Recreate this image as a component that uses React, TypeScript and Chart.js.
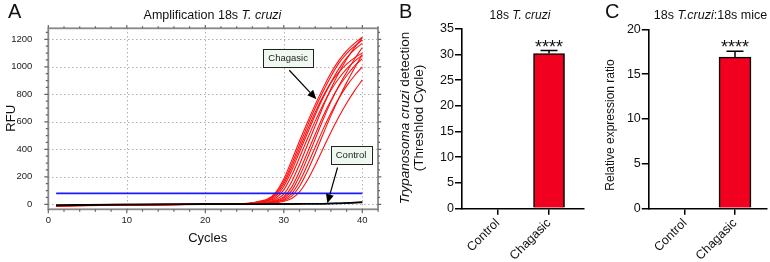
import React, { useEffect, useRef } from 'react';
import { Chart, registerables } from 'chart.js';

Chart.register(...registerables);

const FONT = '"Liberation Sans", Arial, Helvetica, sans-serif';

// ---------- Panel A: amplification curves ----------
const cycles = [1, 5, 10, 15, 20, 22, 24, 25, 26, 27, 28, 29, 30, 31, 32, 33, 34, 35, 36, 37, 38, 39, 40];
const chagasic01 = [-10, -7, -4, -2, 0, 1, 3, 6, 12, 24, 40, 90, 185, 320, 460, 595, 725, 845, 955, 1045, 1115, 1170, 1215];
const chagasic02 = [-12, -8, -5, -2, 0, 1, 3, 5, 10, 20, 36, 80, 166, 293, 432, 569, 700, 820, 930, 1025, 1095, 1150, 1195];
const chagasic03 = [-9, -6, -4, -1, 0, 1, 2, 5, 9, 18, 33, 70, 150, 270, 405, 540, 670, 785, 885, 960, 1020, 1065, 1100];
const chagasic04 = [-11, -8, -5, -2, -1, 0, 2, 4, 8, 16, 30, 60, 130, 245, 380, 515, 650, 775, 885, 985, 1065, 1125, 1170];
const chagasic05 = [-10, -7, -3, -1, 0, 1, 2, 4, 7, 13, 25, 48, 105, 210, 340, 475, 605, 725, 830, 915, 985, 1040, 1085];
const chagasic06 = [-13, -9, -5, -2, -1, 0, 1, 3, 6, 10, 19, 36, 75, 165, 290, 430, 570, 710, 840, 955, 1055, 1140, 1210];
const chagasic07 = [-9, -6, -3, -1, 0, 0, 1, 2, 5, 8, 15, 28, 55, 125, 240, 375, 510, 640, 755, 855, 935, 1005, 1060];
const chagasic08 = [-11, -7, -4, -2, -1, 0, 1, 2, 4, 7, 13, 24, 45, 100, 205, 335, 475, 615, 745, 860, 960, 1055, 1140];
const chagasic09 = [-10, -6, -4, -2, 0, 0, 1, 2, 3, 6, 10, 19, 36, 78, 165, 285, 415, 545, 665, 770, 860, 935, 1000];
const chagasic10 = [-12, -8, -5, -3, -1, 0, 0, 1, 3, 5, 9, 16, 29, 60, 130, 240, 370, 510, 645, 770, 885, 990, 1090];
const chagasic11 = [-9, -6, -4, -2, -1, 0, 0, 1, 2, 4, 7, 12, 22, 42, 90, 175, 285, 405, 525, 635, 735, 825, 905];
const control01 = [-5, -3, -1, 1, 2, 2, 2, 2, 2, 1, 2, 2, 3, 3, 3, 4, 4, 5, 6, 7, 9, 11, 14];
const control02 = [-8, -5, -2, 0, 1, 1, 1, 2, 1, 2, 2, 2, 3, 3, 4, 4, 5, 5, 6, 8, 10, 13, 17];
const thresholdCycles = [1, 40];
const thresholdRFU = [80, 80];
const chagasicSeries = [chagasic01, chagasic02, chagasic03, chagasic04, chagasic05, chagasic06, chagasic07, chagasic08, chagasic09, chagasic10, chagasic11];
const controlSeries = [control01, control02];

// callouts (data units)
const calloutsA = [
  { text: 'Chagasic', x: 30.55, y: 1066, tailX: 30.7, tailY: 975, tipX: 34.15, tipY: 765 },
  { text: 'Control', x: 38.57, y: 361, tailX: 36.85, tailY: 268, tipX: 35.55, tipY: 8 },
];

// ---------- Panels B / C ----------
const groups = ['Control', 'Chagasic'];
const ctValues = [0, 30.2];
const ctErrors = [0, 0.6];
const ratioValues = [0, 16.9];
const ratioErrors = [0, 0.65];
const significance = ['', '****'];

type Part = [string, boolean];

function drawRich(ctx: CanvasRenderingContext2D, parts: Part[], cx: number, cy: number, size: number, rotate = false) {
  ctx.save();
  ctx.translate(cx, cy);
  if (rotate) ctx.rotate(-Math.PI / 2);
  ctx.textBaseline = 'middle';
  ctx.textAlign = 'left';
  ctx.fillStyle = '#111';
  let total = 0;
  for (const [t, it] of parts) {
    ctx.font = `${it ? 'italic ' : ''}${size}px ${FONT}`;
    total += ctx.measureText(t).width;
  }
  let x = -total / 2;
  for (const [t, it] of parts) {
    ctx.font = `${it ? 'italic ' : ''}${size}px ${FONT}`;
    ctx.fillText(t, x, 0);
    x += ctx.measureText(t).width;
  }
  ctx.restore();
}

function drawLetter(ctx: CanvasRenderingContext2D, letter: string, x: number, baseline: number) {
  ctx.save();
  ctx.font = `20px ${FONT}`;
  ctx.fillStyle = '#111';
  ctx.textAlign = 'left';
  ctx.textBaseline = 'alphabetic';
  ctx.fillText(letter, x, baseline);
  ctx.restore();
}

function makeA(canvas: HTMLCanvasElement) {
  const red = '#ff1010';
  const datasets: any[] = [];
  datasets.push({
    data: thresholdCycles.map((c, i) => ({ x: c, y: thresholdRFU[i] })),
    borderColor: '#1a1aff', borderWidth: 1.6, pointRadius: 0,
  });
  controlSeries.forEach((s) => datasets.push({
    data: cycles.map((c, i) => ({ x: c, y: s[i] })),
    borderColor: '#000', borderWidth: 1.5, pointRadius: 0, cubicInterpolationMode: 'monotone',
  }));
  chagasicSeries.forEach((s) => datasets.push({
    data: cycles.map((c, i) => ({ x: c, y: s[i] })),
    borderColor: red, borderWidth: 1.1, pointRadius: 0, cubicInterpolationMode: 'monotone',
  }));

  const framePlugin = {
    id: 'frameA',
    beforeDatasetsDraw(chart: any) {
      const { ctx, chartArea: a, scales: { x, y } } = chart;
      ctx.save();
      ctx.strokeStyle = '#8c8c8c';
      ctx.lineWidth = 1;
      ctx.setLineDash([1, 3]);
      x.ticks.forEach((t: any) => {
        if (t.value === 0) return;
        const px = Math.round(x.getPixelForValue(t.value)) + 0.5;
        ctx.beginPath(); ctx.moveTo(px, a.top); ctx.lineTo(px, a.bottom); ctx.stroke();
      });
      y.ticks.forEach((t: any) => {
        const py = Math.round(y.getPixelForValue(t.value)) + 0.5;
        ctx.beginPath(); ctx.moveTo(a.left, py); ctx.lineTo(a.right, py); ctx.stroke();
      });
      ctx.restore();
    },
    afterDatasetsDraw(chart: any) {
      const { ctx, chartArea: a, scales: { x, y } } = chart;
      ctx.save();
      ctx.strokeStyle = '#888';
      ctx.lineWidth = 1.8;
      ctx.strokeRect(a.left, a.top, a.right - a.left, a.bottom - a.top);
      ctx.lineWidth = 1.2;
      ctx.strokeStyle = '#666';
      for (let v = 0; v <= x.max; v += 2) {
        const px = x.getPixelForValue(v);
        const len = v % 10 === 0 ? 4 : 2.5;
        ctx.beginPath();
        ctx.moveTo(px, a.bottom); ctx.lineTo(px, a.bottom + len);
        ctx.moveTo(px, a.top); ctx.lineTo(px, a.top - len * 0.8);
        ctx.stroke();
      }
      for (let v = 0; v <= y.max; v += 50) {
        const py = y.getPixelForValue(v);
        const len = v % 200 === 0 ? 4 : 2.5;
        ctx.beginPath();
        ctx.moveTo(a.left - len, py); ctx.lineTo(a.left, py);
        ctx.moveTo(a.right, py); ctx.lineTo(a.right + len * 0.8, py);
        ctx.stroke();
      }
      ctx.restore();
    },
    afterDraw(chart: any) {
      const { ctx, scales: { x, y } } = chart;
      calloutsA.forEach((c) => {
        const tx = x.getPixelForValue(c.tailX), ty = y.getPixelForValue(c.tailY);
        const hx = x.getPixelForValue(c.tipX), hy = y.getPixelForValue(c.tipY);
        ctx.save();
        ctx.strokeStyle = '#000'; ctx.fillStyle = '#000'; ctx.lineWidth = 1.2;
        const ang = Math.atan2(hy - ty, hx - tx);
        const hl = 9, hw = 4;
        const bx = hx - hl * Math.cos(ang), by = hy - hl * Math.sin(ang);
        ctx.beginPath(); ctx.moveTo(tx, ty); ctx.lineTo(bx, by); ctx.stroke();
        ctx.beginPath();
        ctx.moveTo(hx, hy);
        ctx.lineTo(bx + hw * Math.sin(ang), by - hw * Math.cos(ang));
        ctx.lineTo(bx - hw * Math.sin(ang), by + hw * Math.cos(ang));
        ctx.closePath(); ctx.fill();
        const cx = x.getPixelForValue(c.x), cy = y.getPixelForValue(c.y);
        ctx.font = `9.5px ${FONT}`;
        const w = ctx.measureText(c.text).width + 10, h = 18;
        ctx.fillStyle = '#eef8ef';
        ctx.fillRect(cx - w / 2, cy - h / 2, w, h);
        ctx.strokeStyle = '#222'; ctx.lineWidth = 1;
        ctx.strokeRect(Math.round(cx - w / 2) + 0.5, Math.round(cy - h / 2) + 0.5, Math.round(w), h);
        ctx.fillStyle = '#222'; ctx.textAlign = 'center'; ctx.textBaseline = 'middle';
        ctx.fillText(c.text, cx, cy + 0.5);
        ctx.restore();
      });
      drawLetter(ctx, 'A', 8, 18);
      drawRich(ctx, [['Amplification 18s ', false], ['T. cruzi', true]], 212.5, 15.5, 12.5);
      drawRich(ctx, [['RFU', false]], 11.7, 118.3, 13, true);
      drawRich(ctx, [['Cycles', false]], 207.7, 238, 13);
    },
  };

  return new Chart(canvas, {
    type: 'line',
    data: { datasets },
    plugins: [framePlugin],
    options: {
      responsive: false,
      animation: false,
      devicePixelRatio: 1,
      layout: { padding: { top: 28.3, right: 12, left: 0, bottom: 0 } },
      plugins: { legend: { display: false }, tooltip: { enabled: false } },
      scales: {
        x: {
          type: 'linear', min: 0, max: 42,
          ticks: {
            stepSize: 10, includeBounds: false, maxRotation: 0, padding: -3, color: '#222',
            font: { size: 9.5, family: FONT }, callback: (v: any) => String(v),
          },
          grid: { display: false }, border: { display: false },
          afterFit: (s: any) => { s.height = 262 - 209.3; },
        },
        y: {
          type: 'linear', min: -36, max: 1280,
          ticks: {
            stepSize: 200, includeBounds: false, padding: 8, color: '#222',
            font: { size: 9.5, family: FONT }, callback: (v: any) => String(v),
          },
          grid: { display: false }, border: { display: false },
          afterFit: (s: any) => { s.width = 48.3; },
        },
      },
    } as any,
  });
}

interface BarCfg {
  values: number[]; errors: number[];
  yMax: number; yStep: number;
  xMin: number; xMax: number;
  padTop: number; padRight: number; yWidth: number; xHeight: number;
  barThickness: number;
  letter: string; letterX: number;
  title: Part[]; titleX: number; titleSize: number;
  yTitles: { parts: Part[]; cx: number; cy: number }[]; yTitleSize: number;
}

function makeBar(canvas: HTMLCanvasElement, cfg: BarCfg) {
  const extras = {
    id: 'extras',
    afterDatasetsDraw(chart: any) {
      const { ctx, scales: { x, y } } = chart;
      ctx.save();
      cfg.values.forEach((v, i) => {
        const err = cfg.errors[i];
        const px = x.getPixelForValue(i);
        const yTop = y.getPixelForValue(v + err);
        if (err > 0) {
          ctx.strokeStyle = '#000'; ctx.lineWidth = 1.5;
          ctx.beginPath();
          ctx.moveTo(px, y.getPixelForValue(v)); ctx.lineTo(px, yTop);
          ctx.moveTo(px - 8.5, yTop); ctx.lineTo(px + 8.5, yTop);
          ctx.stroke();
        }
        if (significance[i]) {
          ctx.fillStyle = '#111';
          ctx.font = `18px ${FONT}`;
          ctx.textAlign = 'center'; ctx.textBaseline = 'alphabetic';
          ctx.fillText(significance[i], px, yTop + 2);
        }
      });
      ctx.restore();
    },
    afterDraw(chart: any) {
      const { ctx } = chart;
      drawLetter(ctx, cfg.letter, cfg.letterX, 18);
      drawRich(ctx, cfg.title, cfg.titleX, 16, cfg.titleSize);
      cfg.yTitles.forEach((t) => drawRich(ctx, t.parts, t.cx, t.cy, cfg.yTitleSize, true));
    },
  };

  return new Chart(canvas, {
    type: 'bar',
    data: {
      datasets: [{
        data: groups.map((g, i) => ({ x: i, y: cfg.values[i] })),
        backgroundColor: '#f2001f',
        borderColor: '#000',
        borderWidth: 1.6,
        borderSkipped: 'start',
        barThickness: cfg.barThickness,
      }],
    },
    plugins: [extras],
    options: {
      responsive: false,
      animation: false,
      devicePixelRatio: 1,
      layout: { padding: { top: cfg.padTop, right: cfg.padRight, left: 0, bottom: 0 } },
      plugins: { legend: { display: false }, tooltip: { enabled: false } },
      scales: {
        x: {
          type: 'linear', min: cfg.xMin, max: cfg.xMax, offset: false,
          afterBuildTicks: (s: any) => { s.ticks = groups.map((_, i) => ({ value: i })); },
          ticks: {
            autoSkip: false, maxRotation: 45, minRotation: 45, padding: 1, color: '#111',
            font: { size: 12.5, family: FONT },
            callback: (v: any) => groups[v as number] ?? '',
          },
          grid: { drawOnChartArea: false, drawTicks: true, tickLength: 6.5, color: '#000', lineWidth: 1.5, offset: false },
          border: { color: '#000', width: 1.6 },
          afterFit: (s: any) => { s.height = cfg.xHeight; },
        },
        y: {
          type: 'linear', min: 0, max: cfg.yMax,
          ticks: { stepSize: cfg.yStep, padding: 1, color: '#111', font: { size: 12.5, family: FONT } },
          grid: { drawOnChartArea: false, drawTicks: true, tickLength: 6.5, color: '#000', lineWidth: 1.5 },
          border: { color: '#000', width: 1.6 },
          afterFit: (s: any) => { s.width = cfg.yWidth; },
        },
      },
    } as any,
  });
}

export default function App() {
  const refA = useRef<HTMLCanvasElement>(null);
  const refB = useRef<HTMLCanvasElement>(null);
  const refC = useRef<HTMLCanvasElement>(null);

  useEffect(() => {
    const charts: Chart[] = [];
    charts.push(makeA(refA.current!));
    charts.push(makeBar(refB.current!, {
      values: ctValues, errors: ctErrors, yMax: 35, yStep: 5,
      xMin: -0.706, xMax: 1.668,
      padTop: 29, padRight: 6.7, yWidth: 71.5, xHeight: 262 - 208.3,
      barThickness: 31,
      letter: 'B', letterX: 9,
      title: [['18s ', false], ['T. cruzi', true]], titleX: 130, titleSize: 12,
      yTitles: [
        { parts: [['Trypanosoma cruzi', true], [' detection', false]], cx: 15, cy: 118 },
        { parts: [['(Threshlod Cycle)', false]], cx: 29, cy: 118 },
      ],
      yTitleSize: 13.5,
    }));
    charts.push(makeBar(refC.current!, {
      values: ratioValues, errors: ratioErrors, yMax: 20, yStep: 5,
      xMin: -0.734, xMax: 1.634,
      padTop: 29.3, padRight: 3.3, yWidth: 58.3, xHeight: 262 - 208.3,
      barThickness: 32,
      letter: 'C', letterX: 15,
      title: [['18s ', false], ['T.cruzi', true], [':18s mice', false]], titleX: 120.5, titleSize: 12.5,
      yTitles: [{ parts: [['Relative expression ratio', false]], cx: 21, cy: 125 }],
      yTitleSize: 12,
    }));
    return () => charts.forEach((c) => c.destroy());
  }, []);

  return (
    <div style={{ position: 'absolute', left: 0, top: 0, width: 770, height: 262, background: '#fff' }}>
      <canvas ref={refA} width={390} height={262} style={{ position: 'absolute', left: 0, top: 0, width: 390, height: 262 }} />
      <canvas ref={refB} width={200} height={262} style={{ position: 'absolute', left: 390, top: 0, width: 200, height: 262 }} />
      <canvas ref={refC} width={180} height={262} style={{ position: 'absolute', left: 590, top: 0, width: 180, height: 262 }} />
    </div>
  );
}
